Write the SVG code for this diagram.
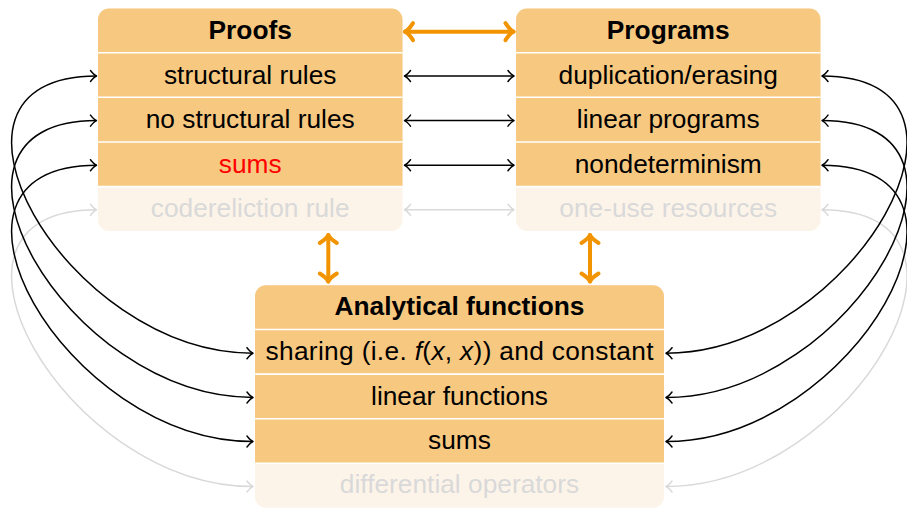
<svg xmlns="http://www.w3.org/2000/svg" width="907" height="508" viewBox="0 0 907 508">
  <style>
    text { font-family: "Liberation Sans", Arial, Helvetica, sans-serif; font-size: 26.3px; text-anchor: middle; fill: #000; }
    .head { font-weight: bold; }
    .faded { fill: #d9d9d9; }
    .hot { fill: #ff0000; }
    .main { fill: #f7c880; }
    .ghost { fill: #fdf4e9; }
    .sep { stroke: #ffffff; stroke-width: 1.6; }
    .link { fill: none; stroke: #000; stroke-width: 1.5; marker-start: url(#tip); marker-end: url(#tip); }
    .link.off { stroke: #d9d9d9; marker-start: url(#tipGray); marker-end: url(#tipGray); }
    .big { fill: none; stroke: #f29400; stroke-width: 4; stroke-linecap: round; marker-start: url(#tipOrange); marker-end: url(#tipOrange); }
  </style>
  <defs>
    <marker id="tip" markerUnits="userSpaceOnUse" viewBox="-8 -7 10 14" refX="0" refY="0" markerWidth="10" markerHeight="14" orient="auto-start-reverse" overflow="visible">
      <path d="M-6,-5.5 Q-2.5,-1 0,0 Q-2.5,1 -6,5.5" fill="none" stroke="#000" stroke-width="1.5" stroke-linecap="round" stroke-linejoin="round"/>
    </marker>
    <marker id="tipGray" markerUnits="userSpaceOnUse" viewBox="-8 -7 10 14" refX="0" refY="0" markerWidth="10" markerHeight="14" orient="auto-start-reverse" overflow="visible">
      <path d="M-6,-5.5 Q-2.5,-1 0,0 Q-2.5,1 -6,5.5" fill="none" stroke="#d9d9d9" stroke-width="1.5" stroke-linecap="round" stroke-linejoin="round"/>
    </marker>
    <marker id="tipOrange" markerUnits="userSpaceOnUse" viewBox="-12 -11 14 22" refX="0" refY="0" markerWidth="14" markerHeight="22" orient="auto-start-reverse" overflow="visible">
      <path d="M-8,-8.5 Q-3.5,-1.5 0,0 Q-3.5,1.5 -8,8.5" fill="none" stroke="#f29400" stroke-width="4" stroke-linecap="round" stroke-linejoin="round"/>
    </marker>
  </defs>

  <!-- connectors -->
  <g id="connectors">
    <!-- curved links: proofs rows to function rows (left) -->
    <path class="link off" d="M96.5,209.8 C-91.5,209.8 65,486.5 253,486.5"/>
    <path class="link" d="M96.5,76 C-91.5,76 65,353.2 253,353.2"/>
    <path class="link" d="M96.5,120.6 C-91.5,120.6 65,397.5 253,397.5"/>
    <path class="link" d="M96.5,165.2 C-91.5,165.2 65,441.5 253,441.5"/>
    <!-- curved links: program rows to function rows (right) -->
    <path class="link off" d="M822,209.8 C1010,209.8 854,486.5 666,486.5"/>
    <path class="link" d="M822,76 C1010,76 854,353.2 666,353.2"/>
    <path class="link" d="M822,120.6 C1010,120.6 854,397.5 666,397.5"/>
    <path class="link" d="M822,165.2 C1010,165.2 854,441.5 666,441.5"/>
    <!-- straight links: proofs rows to program rows -->
    <path class="link" d="M404.5,76 H514"/>
    <path class="link" d="M404.5,120.6 H514"/>
    <path class="link" d="M404.5,165.2 H514"/>
    <path class="link off" d="M404.5,209.8 H514"/>
    <!-- thick links between the three boxes -->
    <path class="big" d="M405,31.7 H513.5"/>
    <path class="big" d="M328.3,235 V281.5"/>
    <path class="big" d="M590,235 V281.5"/>
  </g>

  <!-- Proofs -->
  <g id="proofs">
    <rect class="ghost" x="98" y="8.5" width="304.5" height="222.5" rx="11"/>
    <path class="main" d="M98,186.5 V19.5 A11,11 0 0 1 109,8.5 H391.5 A11,11 0 0 1 402.5,19.5 V186.5 Z"/>
    <path class="sep" d="M98,52.7 H402.5 M98,97.3 H402.5 M98,142 H402.5 M98,186.6 H402.5"/>
    <text class="head" x="250.2" y="39.3">Proofs</text>
    <text x="250.2" y="84">structural rules</text>
    <text x="250.2" y="128.4">no structural rules</text>
    <text class="hot" x="250.2" y="172.8">sums</text>
    <text class="faded" x="250.2" y="217.3">codereliction rule</text>
  </g>

  <!-- Programs -->
  <g id="programs">
    <rect class="ghost" x="516" y="8.5" width="304.5" height="222.5" rx="11"/>
    <path class="main" d="M516,186.5 V19.5 A11,11 0 0 1 527,8.5 H809.5 A11,11 0 0 1 820.5,19.5 V186.5 Z"/>
    <path class="sep" d="M516,52.7 H820.5 M516,97.3 H820.5 M516,142 H820.5 M516,186.6 H820.5"/>
    <text class="head" x="668.2" y="39.3">Programs</text>
    <text x="668.2" y="84">duplication/erasing</text>
    <text x="668.2" y="128.4">linear programs</text>
    <text x="668.2" y="172.8">nondeterminism</text>
    <text class="faded" x="668.2" y="217.3">one-use resources</text>
  </g>

  <!-- Analytical functions -->
  <g id="analytical">
    <rect class="ghost" x="255" y="285.3" width="409" height="222.5" rx="11"/>
    <path class="main" d="M255,463.3 V296.3 A11,11 0 0 1 266,285.3 H653 A11,11 0 0 1 664,296.3 V463.3 Z"/>
    <path class="sep" d="M255,329.5 H664 M255,374.1 H664 M255,418.7 H664 M255,463.3 H664"/>
    <text class="head" x="459.5" y="314.8">Analytical functions</text>
    <text x="459.5" y="360.2" textLength="388" lengthAdjust="spacing">sharing (i.e. <tspan font-style="italic">f</tspan>(<tspan font-style="italic">x</tspan>, <tspan font-style="italic">x</tspan>)) and constant</text>
    <text x="459.5" y="404.6">linear functions</text>
    <text x="459.5" y="449">sums</text>
    <text class="faded" x="459.5" y="493.4">differential operators</text>
  </g>
</svg>
